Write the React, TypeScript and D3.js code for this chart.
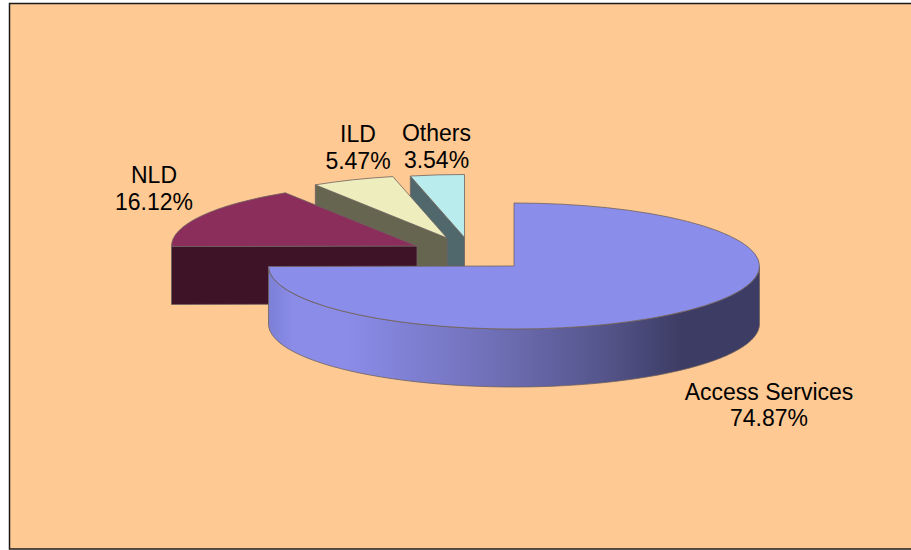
import React from "react";
import * as d3 from "d3";

const categories = ["Access Services", "NLD", "ILD", "Others"];
const shares = [74.87, 16.12, 5.47, 3.54];
const shareLabels = ["74.87%", "16.12%", "5.47%", "3.54%"];
const topColors = ["#8B8DEB", "#8C2E5C", "#EDEDBE", "#B9ECEC"];
const wallColors = ["url(#wall)", "#3E1328", "#666650", "#50686C"];

const W = 911;
const H = 550;
const RX = 245.5;
const RY = 63;
const DEPTH = 58;
const centers: [number, number][] = [
  [514, 266],
  [417, 246],
  [447, 238],
  [464.5, 237.5],
];
const labelPos: [number, number, number][] = [
  [769, 400, 426],
  [154, 183, 210],
  [358, 142, 169],
  [436.5, 141, 168],
];

const pie = d3.pie<number>().sort(null).value((d) => d);
const slices = pie(shares);
const arcGen = d3.arc<d3.PieArcDatum<number>>().innerRadius(0).outerRadius(RX);

const project = (i: number, t: number, dy = 0): [number, number] => [
  centers[i][0] + RX * Math.sin(t),
  centers[i][1] - RY * Math.cos(t) + dy,
];
const line = d3.line();

function outerWall(i: number, a0: number, a1: number) {
  const ts = d3.range(0, 61).map((k) => a0 + ((a1 - a0) * k) / 60);
  const pts = [
    ...ts.map((t) => project(i, t)),
    ...ts.slice().reverse().map((t) => project(i, t, DEPTH)),
  ];
  return line(pts) + "Z";
}

function cutWall(i: number, t: number) {
  const [cx, cy] = centers[i];
  const p = project(i, t);
  return (
    line([
      [cx, cy],
      p,
      [p[0], p[1] + DEPTH],
      [cx, cy + DEPTH],
    ]) + "Z"
  );
}

const edge = "#6E625E";

export default function App() {
  const order = [3, 2, 1, 0];
  return (
    <svg
      width={W}
      height={H}
      style={{ position: "absolute", left: 0, top: 0, display: "block" }}
      fontFamily="'Liberation Sans', Arial, sans-serif"
    >
      <defs>
        <linearGradient id="wall" gradientUnits="userSpaceOnUse" x1={268} x2={761} y1={0} y2={0}>
          <stop offset="0" stopColor="#7C7FD4" />
          <stop offset="0.05" stopColor="#8A8CE8" />
          <stop offset="0.16" stopColor="#8A8CE8" />
          <stop offset="0.45" stopColor="#7070B8" />
          <stop offset="0.68" stopColor="#55558C" />
          <stop offset="0.84" stopColor="#3C3C64" />
          <stop offset="1" stopColor="#3C3C64" />
        </linearGradient>
      </defs>
      <rect width={W} height={H} fill="#fff" />
      <rect x={9.5} y={3.5} width={W} height={545.5} fill="#FFC993" stroke="#1a1a1a" strokeWidth={1.5} />
      {order.map((i) => {
        const s = slices[i];
        return (
          <g key={categories[i]}>
            {i === 0 ? (
              <path
                d={outerWall(i, Math.PI / 2, Math.min(s.endAngle, (3 * Math.PI) / 2))}
                fill={wallColors[i]}
                stroke={edge}
                strokeWidth={0.8}
              />
            ) : (
              <path d={cutWall(i, s.startAngle)} fill={wallColors[i]} stroke={edge} strokeWidth={0.8} />
            )}
            <path
              d={arcGen(s) as string}
              transform={`translate(${centers[i][0]},${centers[i][1]}) scale(1,${RY / RX})`}
              fill={topColors[i]}
              stroke={edge}
              strokeWidth={0.8}
              vectorEffect="non-scaling-stroke"
            />
          </g>
        );
      })}
      {categories.map((c, i) => (
        <g key={c} fontSize={23} textAnchor="middle" fill="#000">
          <text x={labelPos[i][0]} y={labelPos[i][1]}>{c}</text>
          <text x={labelPos[i][0]} y={labelPos[i][2]}>{shareLabels[i]}</text>
        </g>
      ))}
    </svg>
  );
}
